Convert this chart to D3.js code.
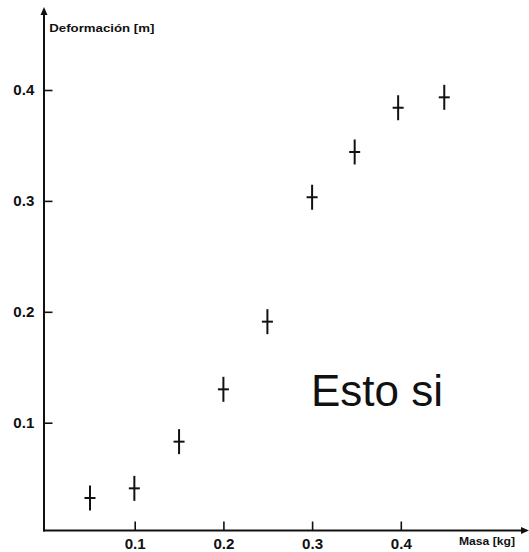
<!DOCTYPE html>
<html>
<head>
<meta charset="utf-8">
<script src="https://cdn.jsdelivr.net/npm/d3@7"></script>
<style>
  html, body { margin: 0; padding: 0; background: #fff; }
  svg { display: block; }
  text { font-family: "Liberation Sans", Arial, Helvetica, sans-serif; }
</style>
</head>
<body>
<svg id="chart" width="529" height="552"></svg>
<script>
// Data
const masa = [0.0496, 0.0996, 0.150, 0.200, 0.2496, 0.300, 0.348, 0.397, 0.449];
const deformacion = [0.0321, 0.0408, 0.0829, 0.1301, 0.1911, 0.3033, 0.3441, 0.3840, 0.3934];
const xTicks = [0.1, 0.2, 0.3, 0.4];
const yTicks = [0.1, 0.2, 0.3, 0.4];
const xLabel = "Masa [kg]";
const yLabel = "Deformación [m]";
const annotation = "Esto si";

const svg = d3.select("#chart");
const x = d3.scaleLinear().domain([0, 0.5]).range([46, 489.5]);
const y = d3.scaleLinear().domain([0, 0.4]).range([533.6, 90]);

const axisX0 = 44;      // y-axis x position
const axisY0 = 530.5;   // x-axis y position
const ink = "#111";

// Axes (ticks pointing inward)
const gx = svg.append("g").attr("transform", `translate(0,${axisY0})`)
  .call(d3.axisBottom(x).tickValues(xTicks).tickFormat(d3.format(".1f"))
    .tickSizeInner(-9).tickSizeOuter(0).tickPadding(8.6));
const gy = svg.append("g").attr("transform", `translate(${axisX0},0)`)
  .call(d3.axisLeft(y).tickValues(yTicks).tickFormat(d3.format(".1f"))
    .tickSizeInner(-8.5).tickSizeOuter(0).tickPadding(9.7));

[gx, gy].forEach(g => {
  g.select(".domain").remove();
  g.selectAll(".tick line").attr("stroke", ink).attr("stroke-width", 1.6);
  g.selectAll(".tick text")
    .attr("fill", ink)
    .attr("font-size", 14)
    .attr("font-weight", "bold")
    .attr("textLength", 21)
    .attr("lengthAdjust", "spacingAndGlyphs");
});

// Axis lines with arrows
svg.append("line").attr("x1", axisX0).attr("x2", axisX0).attr("y1", 12).attr("y2", axisY0 + 1)
  .attr("stroke", ink).attr("stroke-width", 2);
svg.append("line").attr("x1", axisX0 - 1).attr("x2", 524).attr("y1", axisY0).attr("y2", axisY0)
  .attr("stroke", ink).attr("stroke-width", 2);
svg.append("path").attr("d", `M${axisX0},7 L${axisX0 - 3.5},15 L${axisX0 + 3.5},15 Z`).attr("fill", ink);
svg.append("path").attr("d", `M529,${axisY0} L521,${axisY0 - 3.5} L521,${axisY0 + 3.5} Z`).attr("fill", ink);

// Axis titles
svg.append("text").attr("x", 49.3).attr("y", 32).text(yLabel)
  .attr("font-size", 11.5).attr("font-weight", "bold").attr("fill", ink)
  .attr("textLength", 105).attr("lengthAdjust", "spacingAndGlyphs");
svg.append("text").attr("x", 459).attr("y", 545).text(xLabel)
  .attr("font-size", 11.5).attr("font-weight", "bold").attr("fill", ink)
  .attr("textLength", 56).attr("lengthAdjust", "spacingAndGlyphs");

// Cross markers
const pts = masa.map((m, i) => ({ m, d: deformacion[i] }));
const marks = svg.append("g").selectAll("g").data(pts).join("g")
  .attr("transform", p => `translate(${x(p.m)},${y(p.d)})`);
marks.append("line").attr("x1", 0).attr("x2", 0).attr("y1", -12.5).attr("y2", 12.5)
  .attr("stroke", ink).attr("stroke-width", 2);
marks.append("line").attr("x1", -5.5).attr("x2", 5.5).attr("y1", 0).attr("y2", 0)
  .attr("stroke", ink).attr("stroke-width", 2);

// Annotation
svg.append("text").attr("x", 311).attr("y", 405.5).text(annotation)
  .attr("font-size", 44).attr("fill", ink);
</script>
</body>
</html>
